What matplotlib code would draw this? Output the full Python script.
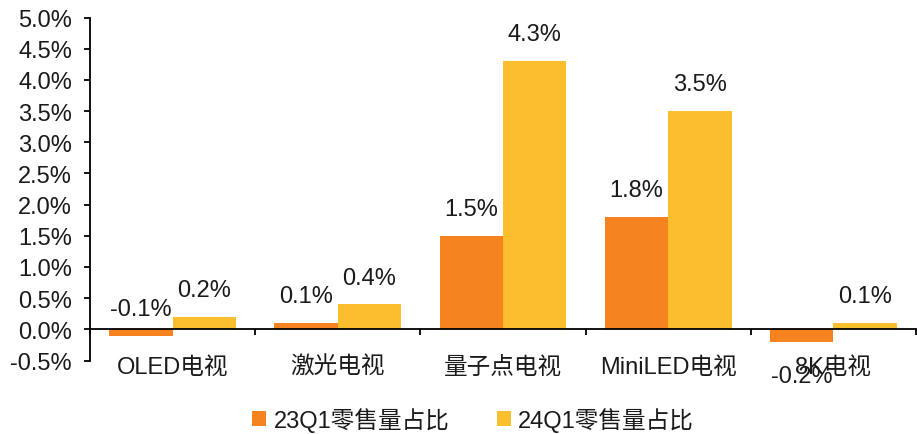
import matplotlib

matplotlib.use("Agg")

import matplotlib.pyplot as plt
import numpy as np

plt.rcParams["font.family"] = ["Liberation Sans", "Noto Sans CJK SC"]

# Retail volume share change by TV technology (percent)
categories = ["OLED电视", "激光电视", "量子点电视", "MiniLED电视", "8K电视"]
share_23q1 = [-0.1, 0.1, 1.5, 1.8, -0.2]
share_24q1 = [0.2, 0.4, 4.3, 3.5, 0.1]
series_names = ["23Q1零售量占比", "24Q1零售量占比"]
y_ticks = [-0.5, 0.0, 0.5, 1.0, 1.5, 2.0, 2.5, 3.0, 3.5, 4.0, 4.5, 5.0]

colors = ["#F48320", "#FBBE2D"]
text_color = "#1a1a1a"
fs = 17

fig = plt.figure(figsize=(9.17, 4.35), dpi=100)
ax = fig.add_axes([90 / 917, 1 - 361.5 / 435, 826 / 917, 343 / 435])

x = np.arange(len(categories))
width = 0.384

for i, (vals, color) in enumerate(zip([share_23q1, share_24q1], colors)):
    xs = x + (i - 0.5) * width
    ax.bar(xs, vals, width=width, color=color, label=series_names[i], zorder=2)
    for j, (xi, v) in enumerate(zip(xs, vals)):
        # label baseline sits above the bar end; the larger negative one goes below
        dy = -29 if v <= -0.15 else 15
        ax.annotate(f"{v:.1f}%", (xi, v), xytext=(0, dy), textcoords="offset points",
                    ha="center", va="baseline", fontsize=fs, color=text_color)

ax.set_xlim(-0.5, len(categories) - 0.5)
ax.set_ylim(-0.5, 5.0)

# axes lines
for side in ["top", "right"]:
    ax.spines[side].set_visible(False)
ax.spines["bottom"].set_position(("data", 0))
ax.spines["bottom"].set_zorder(3)
for side in ["left", "bottom"]:
    ax.spines[side].set_linewidth(1.3)
    ax.spines[side].set_color("black")

ax.set_yticks(y_ticks)
ax.set_yticklabels([f"{v:.1f}%" for v in y_ticks], fontsize=fs, color=text_color)
ax.tick_params(axis="y", direction="out", length=4, width=1.3, pad=9)

ax.set_xticks(x)
ax.set_xticklabels(categories, fontsize=fs, color=text_color)
ax.set_xticks(np.arange(len(categories) + 1) - 0.5, minor=True)
ax.tick_params(axis="x", which="major", length=0, pad=19)
ax.tick_params(axis="x", which="minor", direction="out", length=4, width=1.3)

fig.legend(loc="lower center", bbox_to_anchor=(473 / 917, 0.0), ncol=2,
           frameon=False, fontsize=fs, handlelength=0.6, handleheight=0.6,
           handletextpad=0.3, columnspacing=2.0, labelcolor=text_color,
           borderpad=0.1, borderaxespad=0.0)

fig.savefig("out.png", dpi=100)
plt.close(fig)
